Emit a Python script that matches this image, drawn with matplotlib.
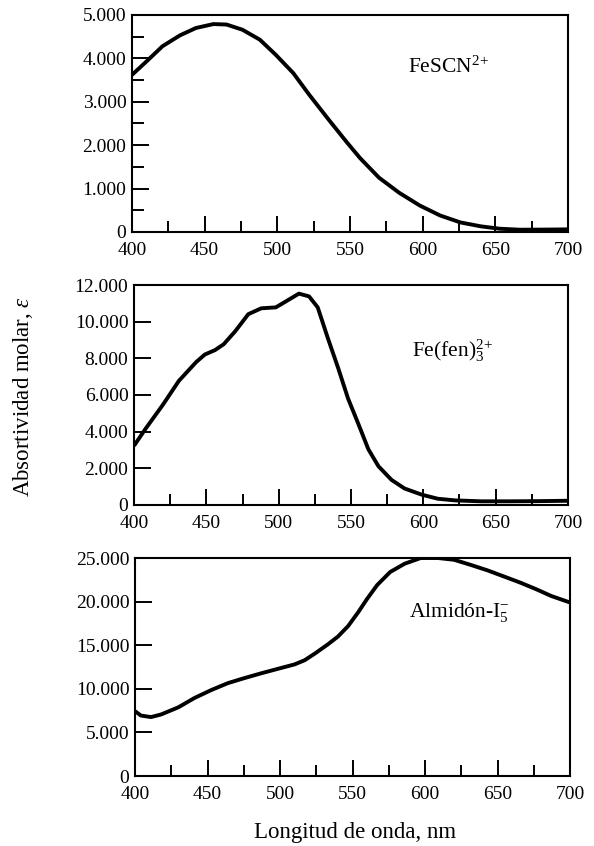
import matplotlib
matplotlib.use("Agg")
import matplotlib.pyplot as plt
from matplotlib.ticker import FuncFormatter, MultipleLocator

plt.rcParams['font.family'] = ['Liberation Serif', 'DejaVu Serif']
plt.rcParams['mathtext.fontset'] = 'custom'
plt.rcParams['mathtext.rm'] = 'Liberation Serif'
plt.rcParams['mathtext.it'] = 'Liberation Serif:italic'

# FeSCN2+
fescn_nm = [400, 410, 421, 433, 444, 456, 465, 476, 488, 499, 511, 522, 536, 548,
            557, 570, 584, 598, 612, 626, 640, 653, 667, 685, 700]
fescn_eps = [3620, 3930, 4280, 4530, 4700, 4790, 4780, 4660, 4430, 4080, 3660, 3160,
             2560, 2060, 1700, 1250, 900, 610, 380, 220, 130, 75, 52, 55, 60]

# Fe(fen)3 2+
fefen_nm = [400, 408, 420, 431, 443, 449, 456, 462, 470, 479, 488, 498, 504, 514,
            521, 527, 534, 541, 548, 555, 562, 569, 578, 587, 599, 610, 622, 640,
            660, 680, 700]
fefen_eps = [3230, 4160, 5470, 6770, 7800, 8210, 8450, 8770, 9480, 10410, 10730, 10780,
             11060, 11530, 11380, 10780, 9100, 7500, 5800, 4440, 3040, 2110, 1370, 900,
             560, 340, 250, 200, 200, 210, 230]

# Almidon-I5-
alm_nm = [400, 404, 411, 418, 430, 441, 453, 464, 475, 487, 498, 510, 517, 524,
          533, 540, 547, 554, 560, 567, 576, 586, 597, 609, 620, 631, 643, 654,
          666, 677, 687, 700]
alm_eps = [7440, 6940, 6760, 7060, 7890, 8950, 9890, 10650, 11210, 11780, 12270, 12800,
           13280, 14040, 15100, 16000, 17200, 18800, 20300, 21900, 23400, 24350, 25000,
           25000, 24800, 24240, 23590, 22910, 22160, 21400, 20650, 19900]

xticks = [400, 450, 500, 550, 600, 650, 700]

fig = plt.figure(figsize=(5.94, 8.46), dpi=100)


def fmt(v, pos):
    return f"{int(round(v)):,}".replace(",", ".")


def setup(ax, ymax, ystep, yminor=None):
    ax.set_xlim(400, 700)
    ax.set_ylim(0, ymax)
    ax.set_xticks(xticks)
    ax.xaxis.set_minor_locator(MultipleLocator(25))
    ax.yaxis.set_major_locator(MultipleLocator(ystep))
    if yminor:
        ax.yaxis.set_minor_locator(MultipleLocator(yminor))
    ax.yaxis.set_major_formatter(FuncFormatter(fmt))
    ax.tick_params(axis='x', which='major', direction='in', length=11.5, width=1.4,
                   labelsize=14, pad=7, top=False)
    ax.tick_params(axis='x', which='minor', direction='in', length=8, width=1.4, top=False)
    ax.tick_params(axis='y', which='major', direction='in', length=12, width=1.4,
                   labelsize=14, pad=4, right=False)
    ax.tick_params(axis='y', which='minor', direction='in', length=8.5, width=1.4, right=False)
    for s in ax.spines.values():
        s.set_linewidth(1.5)


ax1 = fig.add_axes([0.2222, 0.7258, 0.734, 0.2565])
ax1.plot(fescn_nm, fescn_eps, color='black', lw=2.8, solid_capstyle='butt',
         solid_joinstyle='round')
setup(ax1, 5000, 1000, 500)
ax1.text(0.633, 0.76, r"FeSCN$^{2\!+}$", transform=ax1.transAxes, fontsize=15.5,
         ha='left', va='center')

ax2 = fig.add_axes([0.2256, 0.4031, 0.7306, 0.26])
ax2.plot(fefen_nm, fefen_eps, color='black', lw=2.8, solid_capstyle='butt',
         solid_joinstyle='round')
setup(ax2, 12000, 2000)
ax2.text(0.64, 0.70, r"Fe(fen)$_3^{2\!+}$", transform=ax2.transAxes, fontsize=15.5,
         ha='left', va='center')

ax3 = fig.add_axes([0.2273, 0.0827, 0.7323, 0.2577])
ax3.plot(alm_nm, alm_eps, color='black', lw=2.8, solid_capstyle='butt',
         solid_joinstyle='round')
setup(ax3, 25000, 5000)
ax3.text(0.63, 0.75, r"Almidón-I$_5^{-}$", transform=ax3.transAxes, fontsize=15.5,
         ha='left', va='center')

fig.text(23 / 594, 1 - 397 / 846, r"Absortividad molar, $\mathit{\varepsilon}$",
         rotation=90, ha='center', va='center', fontsize=16.5)
fig.text(355 / 594, 1 - 832 / 846, "Longitud de onda, nm", ha='center', va='center',
         fontsize=16.5)

fig.savefig("out.png", dpi=100)
